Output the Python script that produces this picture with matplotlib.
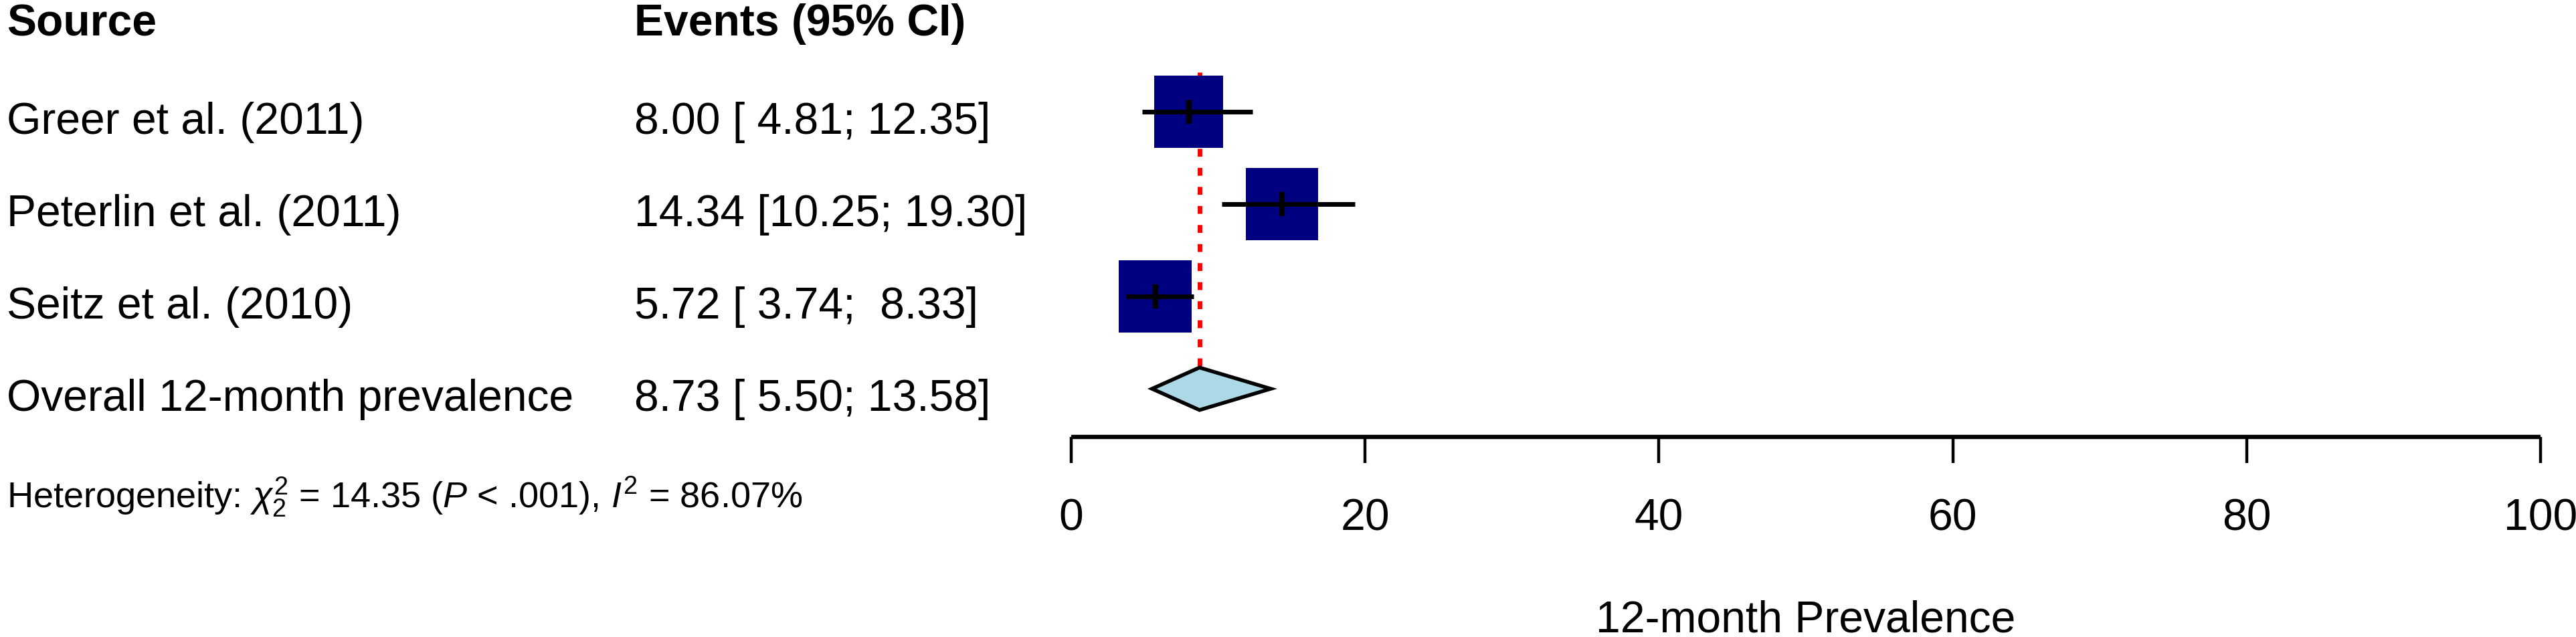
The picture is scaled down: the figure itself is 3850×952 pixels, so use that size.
import matplotlib
matplotlib.use('Agg')
import matplotlib.pyplot as plt
import matplotlib.transforms as mtransforms
from matplotlib.patches import Rectangle, Polygon
import numpy as np

# ---------------- data ----------------
studies = ["Greer et al. (2011)", "Peterlin et al. (2011)", "Seitz et al. (2010)"]
est = [8.00, 14.34, 5.72]
lower = [4.81, 10.25, 3.74]
upper = [12.35, 19.30, 8.33]
weights = [31.0, 34.5, 34.5]          # study weights (%) -> box size
overall_label = "Overall 12-month prevalence"
overall = [8.73, 5.50, 13.58]          # estimate, lower, upper
xticks = [0, 20, 40, 60, 80, 100]
header_left = "Source"
header_right = "Events (95% CI)"
xlabel = "12-month Prevalence"
hetero = r"Heterogeneity: $\chi^2_2$ = 14.35 ($P$ < .001), $I^2$ = 86.07%"

# ---------------- style ----------------
plt.rcParams['font.family'] = ['Liberation Sans', 'DejaVu Sans']
plt.rcParams['mathtext.fontset'] = 'custom'
plt.rcParams['mathtext.rm'] = 'Liberation Sans'
plt.rcParams['mathtext.it'] = 'Liberation Sans:italic'
plt.rcParams['mathtext.bf'] = 'Liberation Sans:bold'

FS = 47.5
W, H = 3850, 953
fig = plt.figure(figsize=(W / 100, H / 100), dpi=100)
ax = fig.add_axes([1601 / W, 0, (3797 - 1601) / W, 1])
ax.set_xlim(0, 100)
ax.set_ylim(6.688, -0.2174)
ax.patch.set_alpha(0)

for s in ['top', 'left', 'right']:
    ax.spines[s].set_visible(False)
ax.spines['bottom'].set_position(('data', 4.52))
ax.spines['bottom'].set_linewidth(4.6)
ax.spines['bottom'].set_capstyle('butt')
ax.set_yticks([])
ax.set_xticks(xticks)
ax.set_xticklabels([str(t) for t in xticks])
ax.tick_params(axis='x', direction='out', length=28, width=3.2, labelsize=FS, pad=37)

# overall estimate dotted red line
ax.plot([overall[0], overall[0]], [0.572, 4 - 0.23], color='red', lw=5,
        linestyle=(0, (1.7, 2.4)), zorder=1)

wmax = max(weights)
for i, (e, lo, hi, w) in enumerate(zip(est, lower, upper, weights)):
    r = i + 1
    bw = 4.95 * np.sqrt(w / wmax)
    bh = 0.78
    ax.add_patch(Rectangle((e - bw / 2, r - bh / 2), bw, bh, facecolor='#000080',
                           edgecolor='none', zorder=2))
    ax.plot([lo, hi], [r, r], color='black', lw=5, solid_capstyle='butt', zorder=3)
    ax.plot([e, e], [r - 0.13, r + 0.13], color='black', lw=6, solid_capstyle='butt', zorder=3)

# diamond
r = 4
dh = 0.23
ax.add_patch(Polygon([[overall[1], r], [overall[0], r - dh], [overall[2], r], [overall[0], r + dh]],
                     closed=True, facecolor='#ADD8E6', edgecolor='black', lw=4, zorder=3))

# xlabel
ax.text(50, 6.625, xlabel, ha='center', va='baseline', fontsize=FS)

# left table text
trans = mtransforms.blended_transform_factory(fig.transFigure, ax.transData)
x_src = 10 / W
x_ci = 948 / W
ax.text(x_src, 0.167, header_left, transform=trans, fontsize=FS, fontweight='bold', va='baseline', clip_on=False)
ax.text(x_ci, 0.167, header_right, transform=trans, fontsize=FS, fontweight='bold', va='baseline', clip_on=False)

labels = studies + [overall_label]
vals = list(zip(est, lower, upper)) + [tuple(overall)]
for i, (lab, (e, lo, hi)) in enumerate(zip(labels, vals)):
    yb = i + 1 + 0.235
    ax.text(x_src, yb, lab, transform=trans, fontsize=FS, va='baseline', clip_on=False)
    ax.text(x_ci, yb, f"{e:.2f} [{lo:5.2f}; {hi:5.2f}]", transform=trans, fontsize=FS,
            va='baseline', clip_on=False)

ax.text(x_src, 5.29, hetero, transform=trans, fontsize=39, va='baseline', clip_on=False)

fig.savefig('out.png', dpi=100)
